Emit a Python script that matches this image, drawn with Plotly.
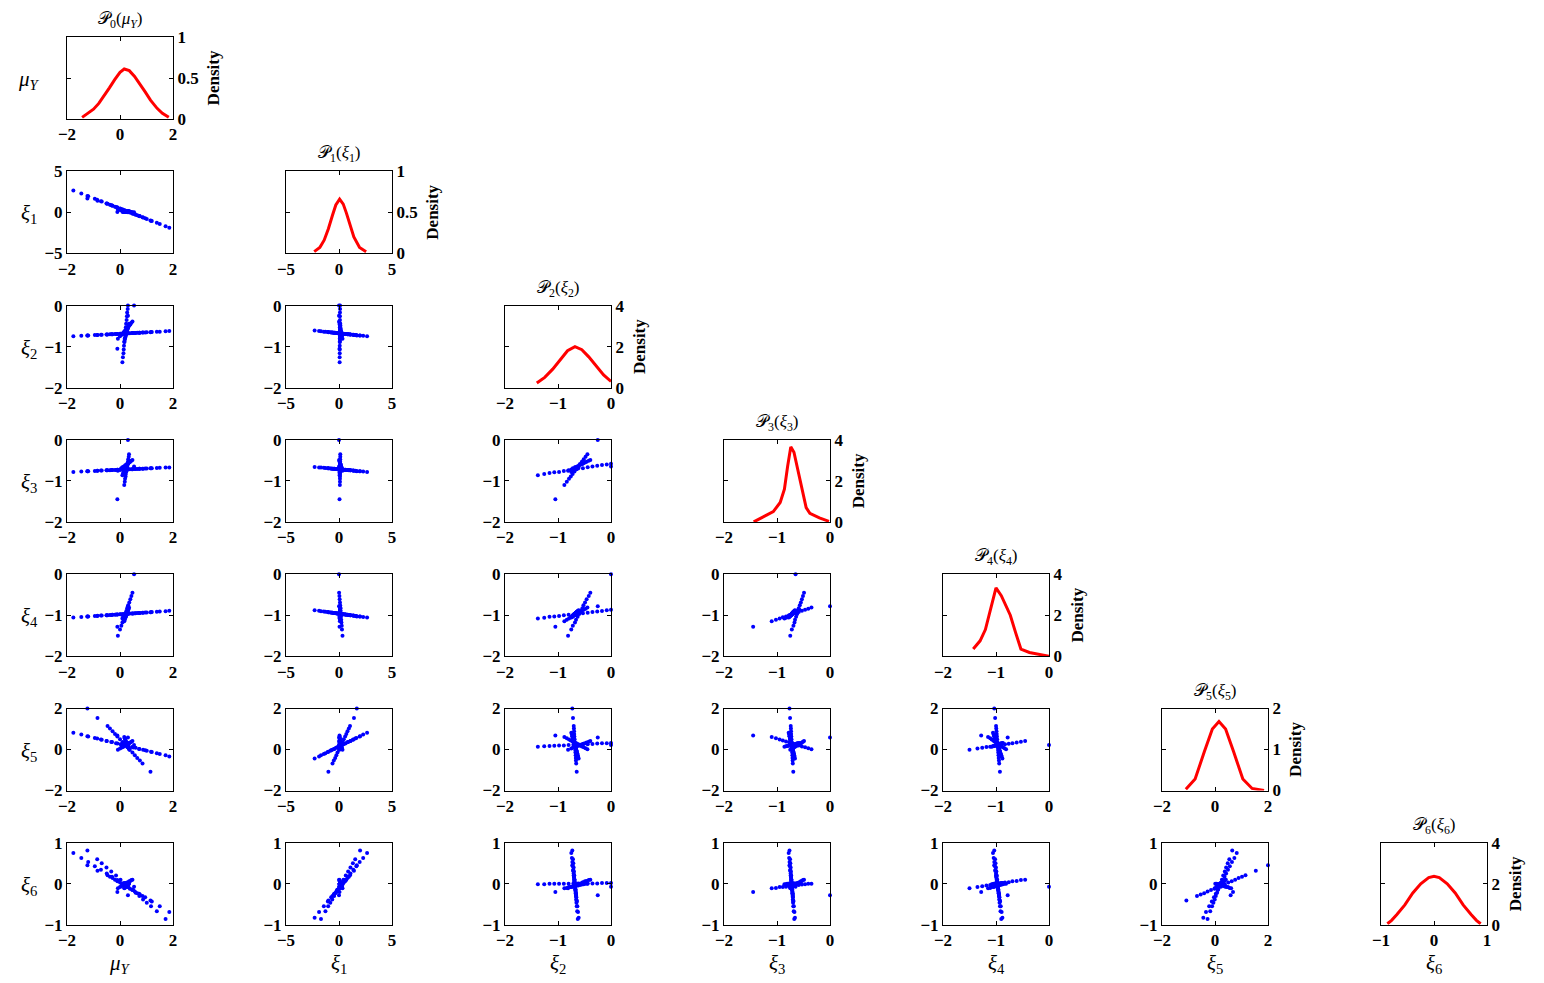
import plotly.graph_objects as go

# ==================================================
# GRID SAMPLES (one value per point, grouped by the driving coordinate)
# ==================================================
# groups: mu/xi1 line (17) | xi2 (16) | xi3 (15) | xi4 (15) | xi5 (18) | xi6 (17)
mu_Y = [
    -1.76, -1.46, -1.2, -0.95, -0.72, -0.5, -0.3, -0.1, 0.1, 0.3, 0.5, 0.72, 0.95, 1.2, 1.5, 1.86, 2.2,
    0.30, 0.29, 0.27, 0.26, 0.25, 0.23, 0.22, 0.21, 0.19, 0.18, 0.17, 0.15, 0.14, 0.13, 0.11, 0.09,
    0.30, 0.34, 0.33, 0.31, 0.30, 0.28, 0.27, 0.25, 0.24, 0.22, 0.21, 0.19, 0.18, 0.16, -0.10,
    0.53, 0.47, 0.43, 0.39, 0.35, 0.31, 0.27, 0.24, 0.20, 0.16, 0.13, 0.09, 0.05, 0.00, -0.08,
    -1.23, -0.85, -0.47, -0.38, -0.28, -0.19, -0.10, 0.00, 0.09, 0.19, 0.28, 0.37, 0.47, 0.56, 0.65, 0.75, 0.85, 1.15,
    -1.23, -0.86, -0.69, -0.51, -0.33, -0.15, 0.02, 0.16, 0.31, 0.45, 0.59, 0.73, 0.87, 1.01, 1.17, 1.39, 1.72,
]
xi_1 = [
    2.65, 2.28, 1.95, 1.64, 1.35, 1.08, 0.83, 0.58, 0.33, 0.08, -0.18, -0.45, -0.74, -1.05, -1.43, -1.88, -2.3,
    0.10, 0.10, 0.09, 0.09, 0.09, 0.09, 0.08, 0.08, 0.08, 0.08, 0.07, 0.07, 0.07, 0.07, 0.06, 0.06,
    0.0, 0.12, 0.12, 0.11, 0.11, 0.11, 0.10, 0.10, 0.10, 0.09, 0.09, 0.09, 0.09, 0.08, 0.05,
    0.0, 0.01, 0.04, 0.06, 0.09, 0.11, 0.13, 0.15, 0.17, 0.19, 0.21, 0.23, 0.26, 0.28, 0.33,
    1.68, 1.41, 1.04, 0.93, 0.80, 0.69, 0.58, 0.45, 0.34, 0.21, 0.10, -0.01, -0.14, -0.25, -0.36, -0.49, -0.61, -1.0,
    1.99, 1.53, 1.31, 1.08, 0.86, 0.64, 0.42, 0.24, 0.07, -0.11, -0.29, -0.46, -0.64, -0.82, -1.02, -1.28, -1.70,
]
xi_2 = [
    -0.749, -0.738, -0.729, -0.72, -0.712, -0.705, -0.698, -0.691, -0.684, -0.677, -0.67, -0.662, -0.654, -0.645, -0.635, -0.622, -0.61,
    0.0, -0.08, -0.17, -0.26, -0.35, -0.44, -0.53, -0.62, -0.71, -0.8, -0.89, -0.98, -1.07, -1.16, -1.26, -1.38,
    -0.25, -0.445, -0.48, -0.515, -0.55, -0.585, -0.62, -0.654, -0.689, -0.724, -0.759, -0.793, -0.834, -0.88, -1.05,
    0.0, -0.39, -0.42, -0.46, -0.49, -0.52, -0.54, -0.57, -0.60, -0.63, -0.66, -0.68, -0.72, -0.75, -0.81,
    -0.73, -0.717, -0.703, -0.70, -0.697, -0.694, -0.691, -0.687, -0.684, -0.68, -0.677, -0.674, -0.671, -0.667, -0.664, -0.661, -0.657, -0.647,
    -0.73, -0.717, -0.711, -0.705, -0.699, -0.692, -0.686, -0.681, -0.676, -0.671, -0.666, -0.661, -0.657, -0.652, -0.646, -0.638, -0.627,
]
xi_3 = [
    -0.78, -0.771, -0.763, -0.756, -0.749, -0.742, -0.736, -0.73, -0.724, -0.718, -0.712, -0.705, -0.699, -0.691, -0.682, -0.671, -0.661,
    -0.58, -0.60, -0.61, -0.63, -0.65, -0.67, -0.69, -0.70, -0.72, -0.74, -0.76, -0.78, -0.79, -0.81, -0.83, -0.86,
    0.0, -0.35, -0.41, -0.47, -0.53, -0.59, -0.65, -0.71, -0.77, -0.83, -0.89, -0.95, -1.02, -1.1, -1.45,
    -0.65, -0.49, -0.51, -0.53, -0.55, -0.57, -0.59, -0.60, -0.62, -0.64, -0.66, -0.67, -0.69, -0.72, -0.75,
    -0.764, -0.753, -0.741, -0.738, -0.735, -0.733, -0.73, -0.727, -0.724, -0.721, -0.719, -0.716, -0.713, -0.71, -0.708, -0.705, -0.702, -0.693,
    -0.764, -0.753, -0.748, -0.742, -0.737, -0.732, -0.726, -0.722, -0.718, -0.714, -0.709, -0.705, -0.701, -0.697, -0.692, -0.685, -0.675,
]
xi_4 = [
    -1.057, -1.044, -1.032, -1.021, -1.01, -1.0, -0.992, -0.983, -0.974, -0.965, -0.956, -0.946, -0.935, -0.924, -0.91, -0.894, -0.879,
    -0.87, -0.88, -0.90, -0.91, -0.92, -0.94, -0.95, -0.96, -0.98, -0.99, -1.00, -1.02, -1.03, -1.04, -1.06, -1.08,
    -0.78, -0.81, -0.84, -0.87, -0.89, -0.92, -0.95, -0.97, -1.0, -1.03, -1.05, -1.08, -1.11, -1.15, -1.28,
    0.0, -0.45, -0.53, -0.61, -0.69, -0.76, -0.83, -0.9, -0.97, -1.04, -1.11, -1.18, -1.26, -1.35, -1.5,
    -1.033, -1.016, -0.999, -0.995, -0.991, -0.987, -0.983, -0.978, -0.974, -0.969, -0.965, -0.961, -0.957, -0.953, -0.949, -0.944, -0.94, -0.926,
    -1.033, -1.017, -1.009, -1.001, -0.993, -0.985, -0.977, -0.971, -0.964, -0.958, -0.951, -0.945, -0.939, -0.933, -0.925, -0.915, -0.901,
]
xi_5 = [
    0.82, 0.73, 0.64, 0.56, 0.49, 0.42, 0.36, 0.29, 0.23, 0.16, 0.10, 0.03, -0.04, -0.12, -0.22, -0.34, -0.44,
    0.32, 0.31, 0.30, 0.29, 0.27, 0.26, 0.25, 0.24, 0.23, 0.22, 0.20, 0.19, 0.18, 0.17, 0.16, 0.14,
    0.59, 0.01, 0.06, 0.11, 0.15, 0.20, 0.25, 0.30, 0.35, 0.39, 0.44, 0.49, 0.55, 0.61, 0.68,
    0.22, 0.41, 0.38, 0.34, 0.31, 0.28, 0.26, 0.23, 0.20, 0.17, 0.14, 0.12, 0.08, 0.05, -0.01,
    2.0, 1.54, 1.15, 1.02, 0.89, 0.76, 0.63, 0.5, 0.37, 0.24, 0.11, -0.02, -0.15, -0.28, -0.41, -0.54, -0.68, -1.08,
    0.65, 0.54, 0.48, 0.42, 0.37, 0.31, 0.26, 0.21, 0.17, 0.12, 0.08, 0.03, -0.01, -0.06, -0.11, -0.18, -0.28,
]
xi_6 = [
    0.75, 0.63, 0.53, 0.43, 0.34, 0.25, 0.17, 0.09, 0.01, -0.07, -0.15, -0.24, -0.33, -0.43, -0.55, -0.69, -0.83,
    0.02, 0.02, 0.02, 0.01, 0.01, 0.01, 0.01, 0.01, 0.01, 0.00, 0.00, 0.00, 0.00, 0.00, -0.01, -0.01,
    -0.28, -0.00, -0.00, -0.01, -0.02, -0.03, -0.04, -0.05, -0.06, -0.07, -0.08, -0.08, -0.10, -0.11, -0.20,
    -0.07, 0.10, 0.09, 0.07, 0.06, 0.04, 0.03, 0.01, 0.0, -0.01, -0.03, -0.04, -0.06, -0.08, -0.11,
    0.45, 0.32, 0.21, 0.17, 0.14, 0.10, 0.06, 0.03, -0.01, -0.04, -0.08, -0.12, -0.15, -0.19, -0.23, -0.26, -0.30, -0.41,
    0.81, 0.6, 0.5, 0.4, 0.3, 0.2, 0.1, 0.02, -0.06, -0.14, -0.22, -0.3, -0.38, -0.46, -0.55, -0.67, -0.86,
]

# ==================================================
# MARGINAL DENSITIES (diagonal)
# ==================================================
p0_x = [-1.43, -1.2, -1.0, -0.8, -0.6, -0.4, -0.2, 0.0, 0.16, 0.35, 0.55, 0.75, 0.95, 1.15, 1.4, 1.6, 1.84]
p0_y = [0.02, 0.07, 0.12, 0.19, 0.28, 0.38, 0.48, 0.57, 0.61, 0.59, 0.52, 0.43, 0.33, 0.23, 0.13, 0.07, 0.02]
p1_x = [-2.34, -1.81, -1.4, -1.0, -0.6, -0.3, 0.06, 0.4, 0.7, 1.0, 1.4, 1.94, 2.56]
p1_y = [0.02, 0.07, 0.16, 0.3, 0.47, 0.59, 0.66, 0.6, 0.49, 0.36, 0.2, 0.07, 0.02]
p2_x = [-1.4, -1.25, -1.1, -0.95, -0.82, -0.68, -0.55, -0.42, -0.28, -0.14, 0.0]
p2_y = [0.22, 0.5, 0.9, 1.4, 1.8, 2.0, 1.85, 1.5, 1.05, 0.62, 0.3]
p3_x = [-1.44, -1.07, -0.94, -0.86, -0.8, -0.74, -0.68, -0.61, -0.53, -0.45, -0.38, -0.2, -0.02]
p3_y = [0.0, 0.5, 0.95, 1.6, 2.7, 3.66, 3.4, 2.6, 1.6, 0.7, 0.42, 0.2, 0.03]
p4_x = [-1.43, -1.3, -1.2, -1.1, -1.0, -0.9, -0.8, -0.73, -0.63, -0.53, -0.37, -0.18, 0.0]
p4_y = [0.35, 0.75, 1.3, 2.3, 3.33, 2.95, 2.4, 2.0, 1.15, 0.35, 0.18, 0.08, 0.0]
p5_x = [-1.1, -0.75, -0.4, -0.1, 0.15, 0.4, 0.7, 1.05, 1.4, 1.6, 1.85]
p5_y = [0.03, 0.28, 0.95, 1.5, 1.68, 1.5, 0.95, 0.28, 0.05, 0.02, 0.0]
p6_x = [-0.88, -0.8, -0.7, -0.55, -0.4, -0.25, -0.1, 0.0, 0.1, 0.25, 0.4, 0.55, 0.7, 0.8, 0.88]
p6_y = [0.05, 0.22, 0.5, 0.97, 1.55, 2.0, 2.3, 2.37, 2.3, 2.0, 1.55, 0.97, 0.5, 0.22, 0.05]

samples = [mu_Y, xi_1, xi_2, xi_3, xi_4, xi_5, xi_6]
dens_x = [p0_x, p1_x, p2_x, p3_x, p4_x, p5_x, p6_x]
dens_y = [p0_y, p1_y, p2_y, p3_y, p4_y, p5_y, p6_y]

var_labels = ["<i>μ</i><sub><i>Y</i></sub>"] + [f"<i>ξ</i><sub>{k}</sub>" for k in range(1, 7)]
var_range = [[-2, 2], [-5, 5], [-2, 0], [-2, 0], [-2, 0], [-2, 2], [-1, 1]]
var_ticks = [[-2, 0, 2], [-5, 0, 5], [-2, -1, 0], [-2, -1, 0], [-2, -1, 0], [-2, 0, 2], [-1, 0, 1]]
dens_range = [[0, 1], [0, 1], [0, 4], [0, 4], [0, 4], [0, 2], [0, 4]]
dens_ticks = [[0, 0.5, 1], [0, 0.5, 1], [0, 2, 4], [0, 2, 4], [0, 2, 4], [0, 1, 2], [0, 2, 4]]

# ==================================================
# LAYOUT GEOMETRY (screen pixels; page body adds an 8px margin)
# ==================================================
W, H = 1544, 983
OFF = 8
PW, PH = 106, 82
col_left = [67 + 219 * k for k in range(7)]
row_top = [37 + 134.3 * k for k in range(7)]

tick_font = dict(family="Liberation Serif", size=17, color="black", weight="bold")
label_font = dict(family="Liberation Serif", size=21, color="black")
axis_style = dict(
    showline=True, linecolor="black", linewidth=1, mirror="ticks",
    ticks="inside", ticklen=4, tickcolor="black", tickwidth=1,
    showgrid=False, zeroline=False, tickfont=tick_font, fixedrange=True,
)


def px_x(x):
    return (x - OFF) / W


def px_y(y):
    return 1 - (y - OFF) / H


fig = go.Figure()
layout = {}
annotations = []

k = 0
for i in range(7):
    for j in range(i + 1):
        k += 1
        xname = "x" if k == 1 else f"x{k}"
        yname = "y" if k == 1 else f"y{k}"
        xkey = "xaxis" if k == 1 else f"xaxis{k}"
        ykey = "yaxis" if k == 1 else f"yaxis{k}"

        layout[xkey] = dict(
            axis_style, domain=[px_x(col_left[j]), px_x(col_left[j] + PW)], anchor=yname,
            range=var_range[j], tickmode="array", tickvals=var_ticks[j],
        )
        ydom = [px_y(row_top[i] + PH), px_y(row_top[i])]

        if i == j:
            # density curve
            fig.add_trace(go.Scatter(
                x=dens_x[i], y=dens_y[i], xaxis=xname, yaxis=yname,
                mode="lines", line=dict(color="#ff0000", width=3),
                cliponaxis=False, showlegend=False, hoverinfo="skip",
            ))
            layout[ykey] = dict(
                axis_style, domain=ydom, anchor=xname, side="right",
                range=dens_range[i], tickmode="array", tickvals=dens_ticks[i],
                title=dict(text="Density", standoff=9,
                           font=dict(family="Liberation Serif", size=17, color="black", weight="bold")),
            )
            annotations.append(dict(
                x=px_x(col_left[j] + PW / 2), y=px_y(row_top[i] - 17),
                text=f"𝒫<sub>{i}</sub>({var_labels[i]})",
                font=dict(family="Liberation Serif", size=17, color="black"),
            ))
        else:
            # pairwise scatter
            fig.add_trace(go.Scatter(
                x=samples[j], y=samples[i], xaxis=xname, yaxis=yname,
                mode="markers", marker=dict(color="#0000ff", size=4),
                cliponaxis=False, showlegend=False, hoverinfo="skip",
            ))
            layout[ykey] = dict(
                axis_style, domain=ydom, anchor=xname,
                range=var_range[i], tickmode="array", tickvals=var_ticks[i],
            )

# row labels on the left
for i in range(7):
    annotations.append(dict(
        x=px_x(29), y=px_y(row_top[i] + PH / 2 + 2),
        text=var_labels[i], font=label_font,
    ))

# column labels at the bottom
for j in range(7):
    annotations.append(dict(
        x=px_x(col_left[j] + PW / 2), y=px_y(964),
        text=var_labels[j], font=label_font,
    ))

for a in annotations:
    a.update(xref="paper", yref="paper", xanchor="center", yanchor="middle", showarrow=False)

fig.update_layout(
    width=W, height=H,
    margin=dict(l=0, r=0, t=0, b=0, autoexpand=False),
    plot_bgcolor="white", paper_bgcolor="white",
    annotations=annotations,
    **layout,
)

fig.write_html("out.html")
